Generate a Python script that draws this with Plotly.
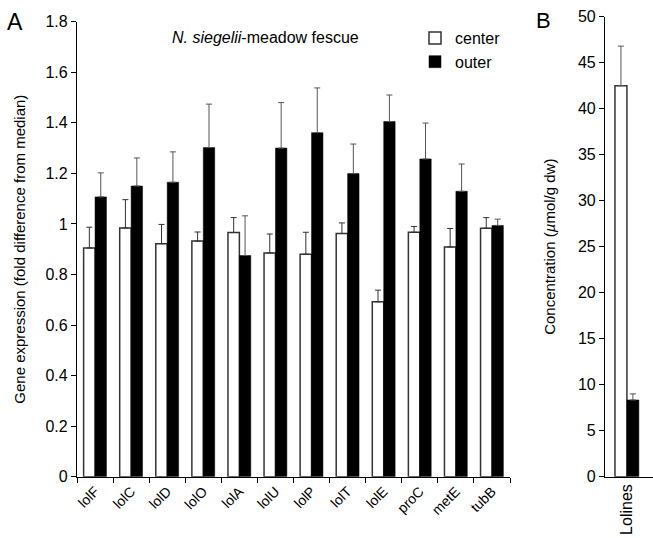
import plotly.graph_objects as go

genes = ["lolF", "lolC", "lolD", "lolO", "lolA", "lolU", "lolP", "lolT", "lolE", "proC", "metE", "tubB"]
center_vals = [0.905, 0.984, 0.922, 0.932, 0.966, 0.885, 0.880, 0.962, 0.692, 0.967, 0.909, 0.983]
center_err_top = [0.987, 1.096, 0.998, 0.968, 1.025, 0.960, 0.967, 1.004, 0.738, 0.990, 0.982, 1.025]
outer_vals = [1.107, 1.150, 1.165, 1.302, 0.875, 1.300, 1.361, 1.199, 1.405, 1.257, 1.129, 0.994]
outer_err_top = [1.202, 1.261, 1.285, 1.474, 1.032, 1.480, 1.538, 1.316, 1.510, 1.399, 1.237, 1.019]

conc_cat = ["Lolines"]
conc_center = [42.5]
conc_center_err_top = [46.8]
conc_outer = [8.34]
conc_outer_err_top = [9.0]

y_ticks_a = [0, 0.2, 0.4, 0.6, 0.8, 1, 1.2, 1.4, 1.6, 1.8]
y_tick_labels_a = ["0", "0.2", "0.4", "0.6", "0.8", "1", "1.2", "1.4", "1.6", "1.8"]
y_ticks_b = [0, 5, 10, 15, 20, 25, 30, 35, 40, 45, 50]

W, H = 653, 538
FONT = "Liberation Sans, Arial, sans-serif"

def err(tops, vals):
    return [t - v for t, v in zip(tops, vals)]

fig = go.Figure()
fig.add_trace(go.Bar(
    x=genes, y=center_vals, name="center",
    marker=dict(color="white", line=dict(color="#333333", width=1.5)),
    error_y=dict(type="data", symmetric=False, array=err(center_err_top, center_vals),
                 arrayminus=[0] * len(genes), color="#333333", thickness=1, width=3),
    xaxis="x", yaxis="y"))
fig.add_trace(go.Bar(
    x=genes, y=outer_vals, name="outer",
    marker=dict(color="black", line=dict(color="black", width=0.5)),
    error_y=dict(type="data", symmetric=False, array=err(outer_err_top, outer_vals),
                 arrayminus=[0] * len(genes), color="#555555", thickness=1, width=3),
    xaxis="x", yaxis="y"))
fig.add_trace(go.Bar(
    x=conc_cat, y=conc_center, name="center", showlegend=False,
    marker=dict(color="white", line=dict(color="#333333", width=1.5)),
    error_y=dict(type="data", symmetric=False, array=err(conc_center_err_top, conc_center),
                 arrayminus=[0], color="#555555", thickness=1, width=3),
    xaxis="x2", yaxis="y2"))
fig.add_trace(go.Bar(
    x=conc_cat, y=conc_outer, name="outer", showlegend=False,
    marker=dict(color="black", line=dict(color="black", width=0.5)),
    error_y=dict(type="data", symmetric=False, array=err(conc_outer_err_top, conc_outer),
                 arrayminus=[0], color="#555555", thickness=1, width=3),
    xaxis="x2", yaxis="y2"))

y0 = (H - 476.7) / H
y1a = (H - 21.7) / H
y1b = (H - 16.7) / H

line_common = dict(showline=True, linecolor="black", linewidth=1.2, showgrid=False,
                   zeroline=False, automargin=False)
ytick_common = dict(ticks="outside", ticklen=5, tickcolor="black",
                    tickfont=dict(family=FONT, size=16, color="black"))

fig.update_layout(
    width=W, height=H, autosize=False,
    margin=dict(l=0, r=0, t=0, b=0, autoexpand=False),
    paper_bgcolor="white", plot_bgcolor="white",
    barmode="group", bargap=0.367, bargroupgap=0,
    font=dict(family=FONT, color="black"),
    showlegend=True,
    legend=dict(x=415 / W, y=(H - 21) / H, xanchor="left", yanchor="top",
                font=dict(family=FONT, size=16, color="black"),
                itemwidth=30, tracegroupgap=3, bgcolor="rgba(0,0,0,0)"),
    xaxis=dict(domain=[77 / W, 510 / W], anchor="y", type="category",
               range=[-0.5, 11.5], tickson="boundaries", tickangle=-45,
               ticks="outside", ticklen=5, tickcolor="black",
               tickfont=dict(family=FONT, size=14, color="black"),
               **line_common),
    yaxis=dict(domain=[y0, y1a], anchor="x", range=[0, 1.8],
               tickvals=y_ticks_a, ticktext=y_tick_labels_a,
               title=dict(text="Gene expression (fold difference from median)",
                          font=dict(family=FONT, size=15, color="black"), standoff=16),
               **line_common, **ytick_common),
    xaxis2=dict(domain=[605 / W, 1.0], anchor="y2", type="category",
                range=[-0.58, 0.69], ticks="", tickangle=-90,
                tickfont=dict(family=FONT, size=16, color="black"),
                **line_common),
    yaxis2=dict(domain=[y0, y1b], anchor="x2", range=[0, 50],
                tickvals=y_ticks_b,
                title=dict(text="Concentration (<i>µ</i>mol/g dw)",
                           font=dict(family=FONT, size=15, color="black"), standoff=18),
                **line_common, **ytick_common),
    annotations=[
        dict(text="A", x=15 / W, y=(H - 22) / H, xref="paper", yref="paper",
             xanchor="center", yanchor="middle",
             showarrow=False, font=dict(family=FONT, size=23, color="black")),
        dict(text="B", x=543 / W, y=(H - 20) / H, xref="paper", yref="paper",
             xanchor="center", yanchor="middle",
             showarrow=False, font=dict(family=FONT, size=22, color="black")),
        dict(text="<i>N. siegelii</i>-meadow fescue", x=265 / W, y=(H - 37) / H,
             xref="paper", yref="paper", xanchor="center", yanchor="middle",
             showarrow=False, font=dict(family=FONT, size=16, color="black")),
    ],
)

fig.write_html("out.html", config={"displayModeBar": False},
               post_script="document.body.style.margin='0';document.body.style.padding='0';")
